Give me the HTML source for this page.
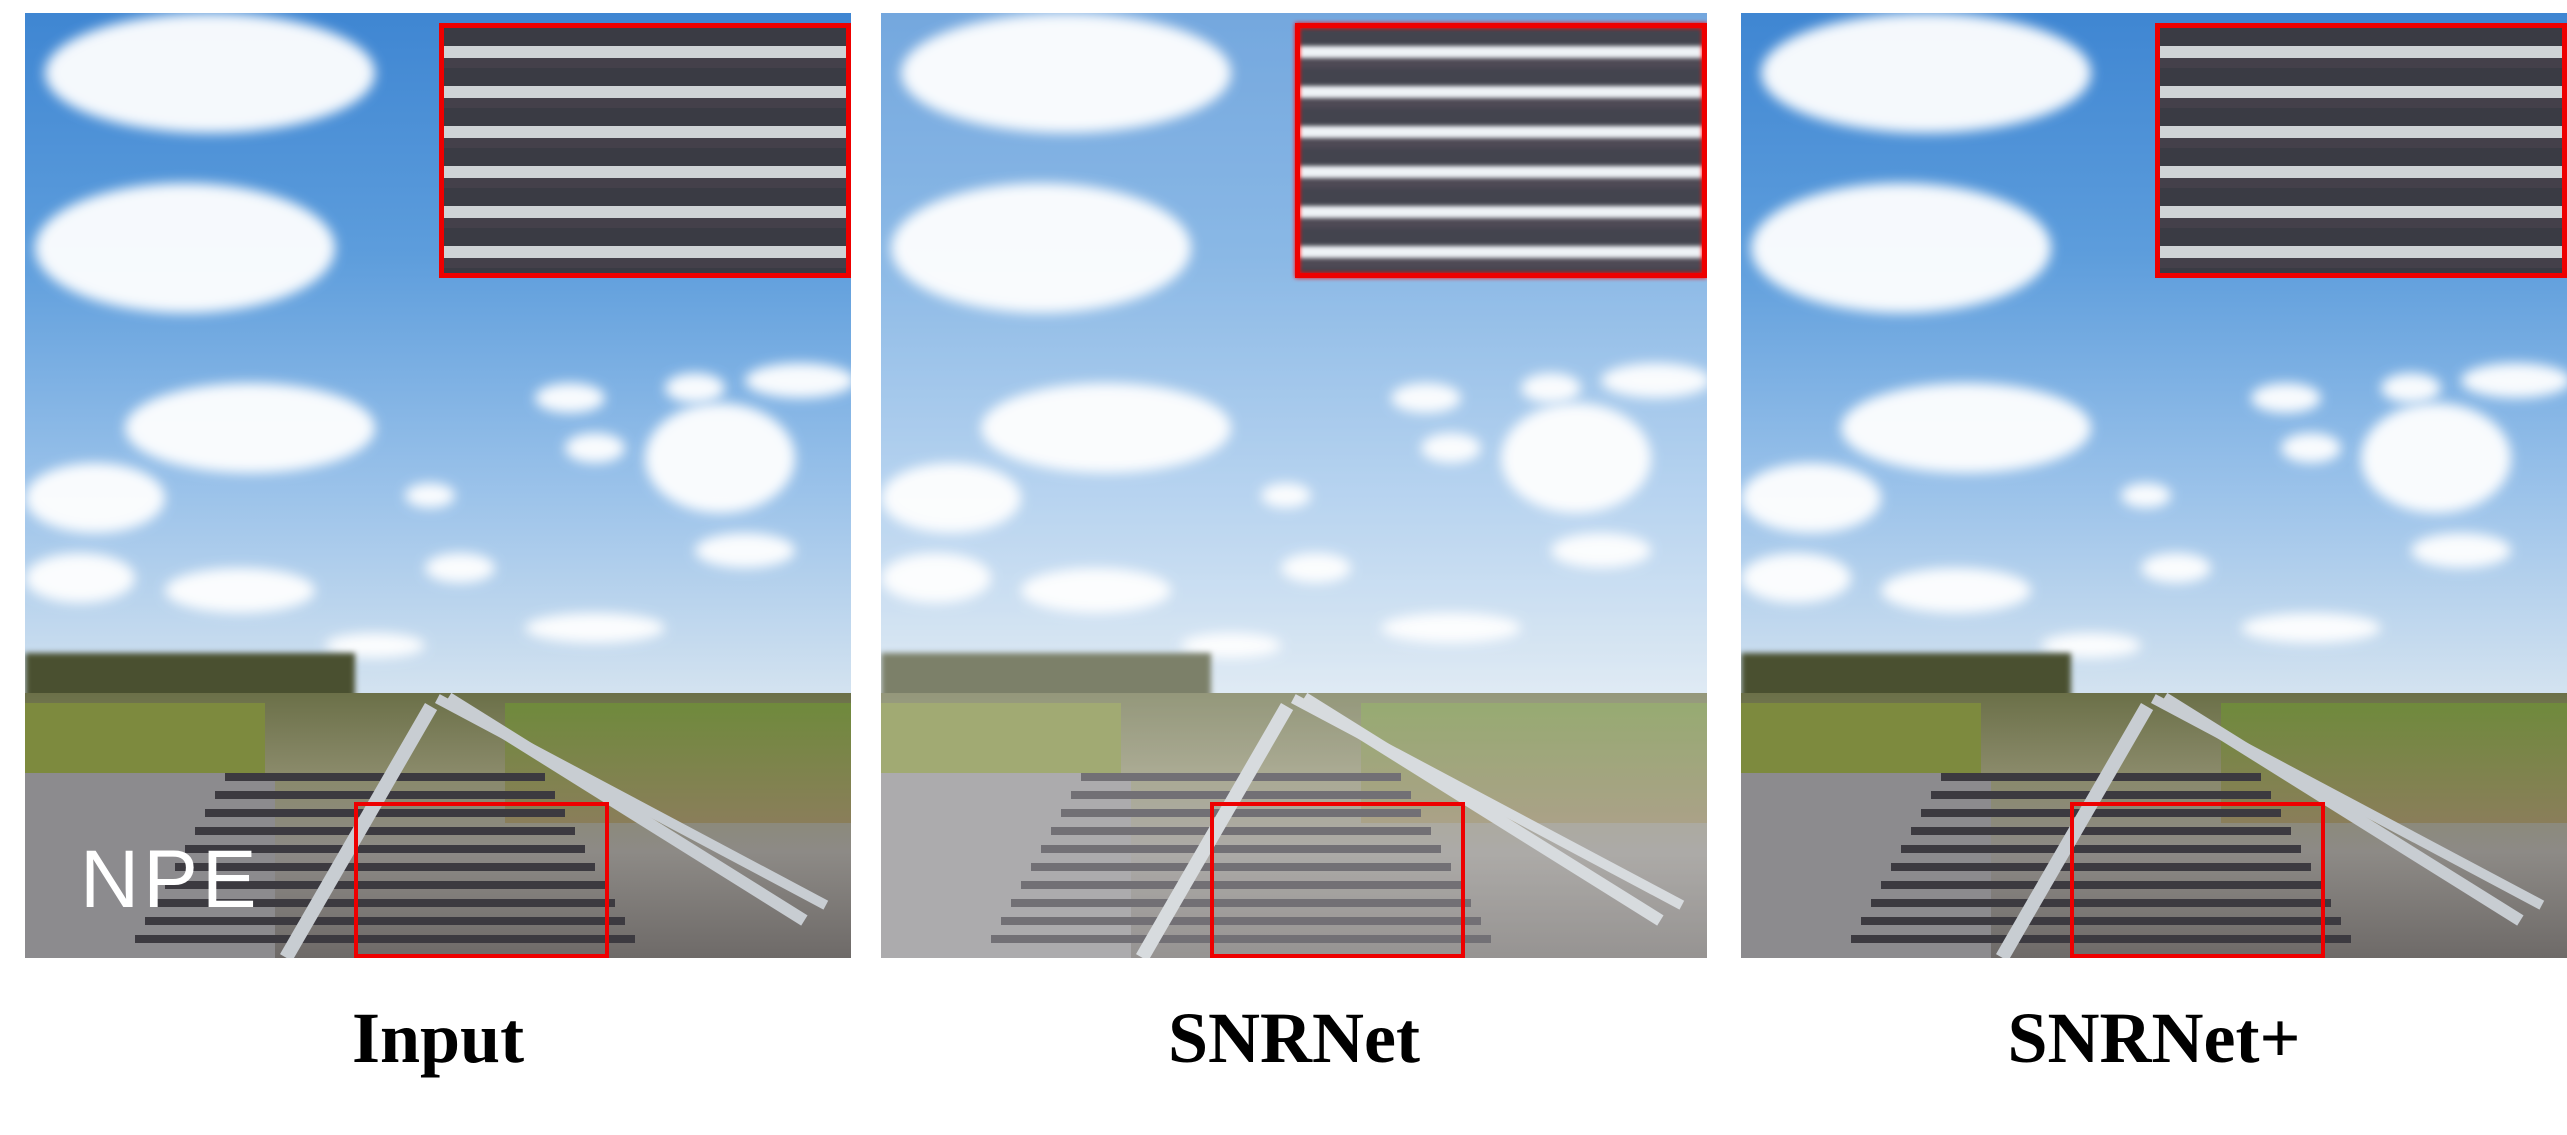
<!DOCTYPE html>
<html><head><meta charset="utf-8"><style>
body{margin:0;width:2567px;height:1135px;background:#fff;position:relative;overflow:hidden;font-family:"Liberation Serif",serif}
.p{position:absolute;top:13px;width:826px;height:945px;overflow:hidden}
.sky{position:absolute;left:0;top:0;width:100%;height:690px;background:linear-gradient(#3f86d2 0%,#5d9ddc 35%,#9cc3ea 70%,#d6e4f0 100%)}
.c{position:absolute;background:#fff;border-radius:50%;filter:blur(6px);opacity:.95}
.gnd{position:absolute;left:0;top:680px;width:100%;height:265px;background:linear-gradient(#6b7048 0%,#8a8a6a 30%,#8d8a86 60%,#6e6a68 100%)}
.grass{position:absolute;top:690px;height:70px;background:#7d8a3e}
.rail{position:absolute;background:#c8cdd2;transform-origin:top left}
.tie{position:absolute;height:8px;background:#3c3a40}
.ins{position:absolute;left:414px;top:10px;width:412px;height:255px;border:5px solid #e00;box-sizing:border-box;background:repeating-linear-gradient(#3a3b44 0 18px,#cfd3d6 18px 30px,#44404a 30px 40px);}
.box{position:absolute;left:329px;top:789px;width:255px;height:156px;border:4px solid #e00;box-sizing:border-box}
.wash{position:absolute;inset:0;background:rgba(255,255,255,.28)}
.lab{position:absolute;top:997px;font-weight:bold;font-size:72px;text-align:center;width:826px}
</style></head><body>
<div class="p" style="left:25px" id="a"></div>
<div class="p" style="left:881px" id="b"></div>
<div class="p" style="left:1741px" id="c"></div>
<div class="lab" style="left:25px">Input</div>
<div class="lab" style="left:881px">SNRNet</div>
<div class="lab" style="left:1741px">SNRNet+</div>
<script>
function build(el,wash,npe){
 let h='<div class="sky"></div>';
 const cl=[[20,0,330,120],[10,170,300,130],[100,370,250,90],[0,450,140,70],[0,540,110,50],[140,555,150,45],[620,390,150,110],[510,370,70,30],[540,420,60,30],[670,520,100,35],[640,360,60,30],[400,540,70,30],[300,620,100,25],[500,600,140,30],[720,350,110,35],[380,470,50,25]];
 for(const c of cl)h+=`<div class="c" style="left:${c[0]}px;top:${c[1]}px;width:${c[2]}px;height:${c[3]}px"></div>`;
 h+='<div style="position:absolute;left:0;top:640px;width:330px;height:50px;background:#4a5030;filter:blur(3px)"></div>';
 h+='<div class="gnd"></div><div class="grass" style="left:0;width:240px"></div><div class="grass" style="left:480px;width:346px;height:120px;background:linear-gradient(#6f8a3c,#8a7e5a)"></div>';
 h+='<div style="position:absolute;left:0;top:760px;width:250px;height:185px;background:#8c8b8e"></div>';
 for(let i=0;i<10;i++){let y=760+i*18;h+=`<div class="tie" style="left:${200-i*10}px;top:${y}px;width:${320+i*20}px"></div>`;}
 h+='<div class="rail" style="left:400px;top:690px;width:14px;height:290px;transform:rotate(30deg)"></div>';
 h+='<div class="rail" style="left:420px;top:690px;width:12px;height:420px;transform:rotate(-58deg)"></div>';
 h+='<div class="rail" style="left:410px;top:690px;width:10px;height:440px;transform:rotate(-62deg)"></div>';
 if(wash)h+='<div class="wash"></div>';
 h+='<div class="ins"'+(wash?' style="filter:blur(2px) brightness(1.15)"':'')+'></div>';
 h+='<div class="ins" style="background:none"></div><div class="box"></div>';
 if(npe)h+='<div style="position:absolute;left:55px;top:820px;color:#fff;font:300 82px \'Liberation Sans\',sans-serif;letter-spacing:4px">NPE</div>';
 el.innerHTML=h;
}
build(document.getElementById('a'),0,1);build(document.getElementById('b'),1,0);build(document.getElementById('c'),0,0);
</script>
</body></html>
